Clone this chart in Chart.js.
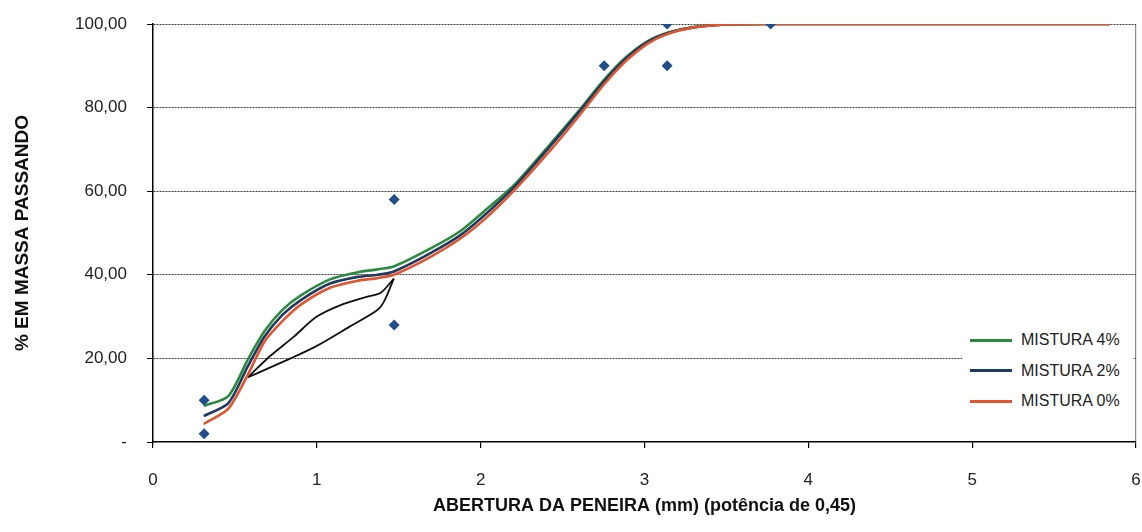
<!DOCTYPE html>
<html>
<head>
<meta charset="utf-8">
<script src="https://cdn.jsdelivr.net/npm/chart.js@4.4.1/dist/chart.umd.min.js"></script>
<style>
  html, body { margin: 0; padding: 0; background: #fff; }
  #wrap { position: relative; width: 1142px; height: 532px; }
  #legend { position: absolute; left: 962px; top: 326px; width: 171px; height: 90px; background: #fff;
            font-family: 'Liberation Sans', Arial, sans-serif; font-size: 16px; color: #222; }
  .row { position: absolute; left: 0; height: 20px; display: flex; align-items: center; }
  .sw { width: 42px; height: 3px; margin-left: 8px; margin-right: 9px; }
</style>
</head>
<body>
<div id="wrap">
  <canvas id="c" width="1142" height="532"></canvas>
  <div id="legend"></div>
</div>
<script>
// ---- data ----
const xTicks = [0, 1, 2, 3, 4, 5, 6];
const yTicks = [0, 20, 40, 60, 80, 100];

// sieve opening ^0.45 positions of the mixture curves
const xMix = [0.31, 0.46, 0.58, 0.68, 0.79, 0.90, 1.08, 1.25, 1.37, 1.47, 1.68, 1.87, 2.03, 2.20, 2.43, 2.60, 2.75, 2.88, 3.02, 3.14, 3.30, 3.50, 3.77, 4.29, 5.15, 5.84];
const mix4 = [8.6, 11.0, 19.8, 26.5, 31.6, 35.0, 38.9, 40.6, 41.3, 42.0, 46.0, 50.3, 55.5, 61.3, 71.5, 79.3, 86.5, 91.8, 95.9, 97.9, 99.3, 99.9, 100, 100, 100, 100];
const mix2 = [6.2, 9.3, 18.2, 25.2, 30.4, 33.9, 37.9, 39.5, 40.0, 40.8, 44.9, 49.3, 54.5, 60.8, 71.0, 78.9, 86.1, 91.5, 95.7, 97.8, 99.2, 99.9, 100, 100, 100, 100];
const mix0 = [4.3, 8.0, 16.2, 24.0, 28.9, 32.8, 36.9, 38.6, 39.2, 40.0, 44.0, 48.5, 53.5, 60.0, 70.0, 78.0, 85.4, 90.9, 95.3, 97.6, 99.2, 99.9, 100, 100, 100, 100];

// restricted zone boundaries
const zoneUpperX = [0.58, 0.71, 0.86, 1.00, 1.16, 1.31, 1.39, 1.47];
const zoneUpperY = [15.5, 20.4, 25.2, 30.0, 33.0, 34.8, 35.7, 39.1];
const zoneLowerX = [0.58, 0.84, 1.00, 1.20, 1.37, 1.41, 1.47];
const zoneLowerY = [15.5, 20.0, 23.0, 27.6, 31.6, 33.6, 39.1];

// control points
const ctrlX = [0.312, 0.312, 1.472, 1.472, 2.754, 3.138, 3.138, 3.77];
const ctrlY = [2, 10, 28, 58, 90, 90, 100, 100];

const seriesNames = ['MISTURA 4%', 'MISTURA 2%', 'MISTURA 0%'];
const seriesColors = ['#2b8a3e', '#1f3a60', '#e05530'];

// ---- build ----
const pts = (xs, ys) => xs.map((x, i) => ({x: x, y: ys[i]}));
const FONT = "'Liberation Sans', Arial, sans-serif";

const lineDs = (label, data, color, order, width, tension) => ({
  label, data, borderColor: color, backgroundColor: color, borderWidth: width,
  pointRadius: 0, showLine: true, fill: false, tension, order
});

const datasets = [
  lineDs(seriesNames[0], pts(xMix, mix4), seriesColors[0], 3, 2.6, 0.25),
  lineDs(seriesNames[1], pts(xMix, mix2), seriesColors[1], 2, 2.6, 0.25),
  lineDs(seriesNames[2], pts(xMix, mix0), seriesColors[2], 1, 2.6, 0.25),
  lineDs('', pts(zoneUpperX, zoneUpperY), '#111', 4, 1.8, 0.3),
  lineDs('', pts(zoneLowerX, zoneLowerY), '#111', 4, 1.8, 0.3),
  { label: '', data: pts(ctrlX, ctrlY), showLine: false, pointStyle: 'rectRot', pointRadius: 5.5,
    backgroundColor: '#1f4e8c', borderColor: '#1f4e8c', borderWidth: 0, order: 0 }
];

const chart = new Chart(document.getElementById('c'), {
  type: 'scatter',
  data: { datasets },
  options: {
    responsive: false, animation: false,
    layout: { padding: { left: 0, right: 6, top: 24, bottom: 0 } },
    plugins: { legend: { display: false }, tooltip: { enabled: false } },
    scales: {
      x: {
        type: 'linear', min: xTicks[0], max: xTicks[xTicks.length - 1],
        afterBuildTicks: s => { s.ticks = xTicks.map(v => ({value: v})); },
        afterFit: s => { s.height = 90; s.paddingLeft = 0; s.paddingRight = 0; },
        ticks: { font: { family: FONT, size: 17 }, color: '#222', padding: 22 },
        grid: { color: c => (c.tick && c.tick.value === 6) ? '#8a8a8a' : 'rgba(0,0,0,0)',
                tickColor: '#000', tickLength: 6, lineWidth: 1.2 },
        border: { color: '#000', width: 1.5 },
        title: { display: true, text: 'ABERTURA DA PENEIRA (mm) (potência de 0,45)',
                 font: { family: FONT, size: 18, weight: 'bold' }, color: '#111', padding: { top: 0, bottom: 15 } }
      },
      y: {
        type: 'linear', min: yTicks[0], max: yTicks[yTicks.length - 1],
        afterBuildTicks: s => { s.ticks = yTicks.map(v => ({value: v})); },
        afterFit: s => { s.width = 153; s.paddingTop = 0; s.paddingBottom = 0; },
        ticks: { font: { family: FONT, size: 17 }, color: '#222', padding: 20,
                 callback: v => v === 0 ? '-' : v.toFixed(2).replace('.', ',') },
        grid: { color: c => (c.tick && c.tick.value === 0) ? 'rgba(0,0,0,0)' : '#3a3a3a',
                tickColor: '#000', tickLength: 6, lineWidth: 1 },
        border: { color: '#000', width: 1.5, dash: [2, 1] },
        title: { display: true, text: '% EM MASSA PASSANDO',
                 font: { family: FONT, size: 19, weight: 'bold' }, color: '#111', padding: { top: 11, bottom: 0 } }
      }
    }
  }
});

// HTML legend built from the chart's datasets
const leg = document.getElementById('legend');
chart.data.datasets.filter(d => d.label).forEach((d, i) => {
  const row = document.createElement('div');
  row.className = 'row';
  row.style.top = (4 + i * 30.5) + 'px';
  const sw = document.createElement('span');
  sw.className = 'sw';
  sw.style.background = d.borderColor;
  const tx = document.createElement('span');
  tx.textContent = d.label;
  row.appendChild(sw); row.appendChild(tx);
  leg.appendChild(row);
});
</script>
</body>
</html>
